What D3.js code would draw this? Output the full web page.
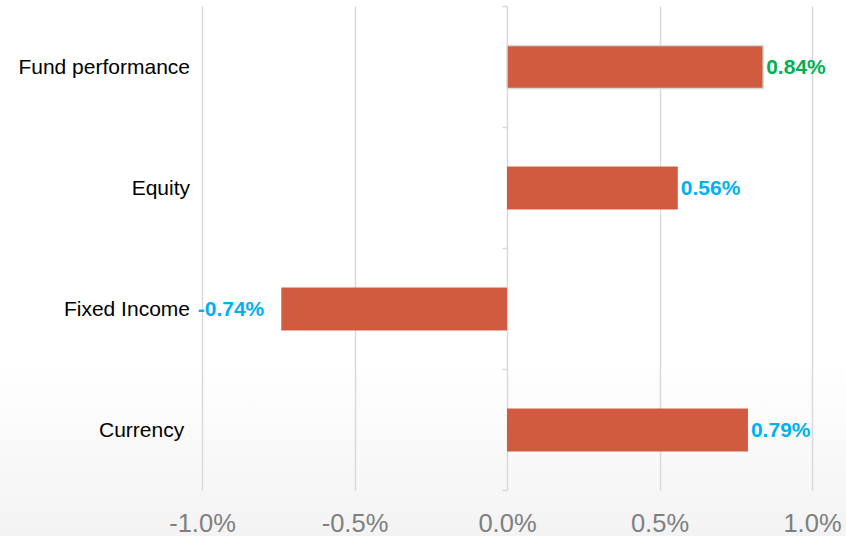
<!DOCTYPE html>
<html>
<head>
<meta charset="utf-8">
<script src="https://cdn.jsdelivr.net/npm/d3@7"></script>
<style>
  html, body { margin: 0; padding: 0; background: #fff; }
  svg { display: block; }
  text { font-family: "Liberation Sans", Arial, Helvetica, sans-serif; }
</style>
</head>
<body>
<svg id="chart" width="846" height="536"></svg>
<script>
// Return attribution by component
const categories = ["Fund performance", "Equity", "Fixed Income", "Currency "];
const values = [0.84, 0.56, -0.74, 0.79];
const labelColors = ["#00b050", "#00b0f0", "#00b0f0", "#00b0f0"];
const tickValues = [-1.0, -0.5, 0.0, 0.5, 1.0];

const W = 846, H = 536;
const svg = d3.select("#chart");

// plain hyphen for negatives
const pct = digits => d => d3.format("." + digits + "f")(d).replace("\u2212", "-") + "%";

// soft grey fade toward the bottom of the canvas
const defs = svg.append("defs");
const grad = defs.append("linearGradient")
  .attr("id", "bgFade").attr("x1", 0).attr("y1", 0).attr("x2", 0).attr("y2", 1);
grad.append("stop").attr("offset", "0.68").attr("stop-color", "#ffffff");
grad.append("stop").attr("offset", "1").attr("stop-color", "#f3f3f3");
svg.append("rect").attr("width", W).attr("height", H).attr("fill", "url(#bgFade)");

const x = d3.scaleLinear().domain([-1.0, 1.0]).range([202, 812]);
const y = d3.scaleBand().domain(categories).range([6.5, 490.5])
  .paddingInner(0.645).paddingOuter(0.3225);

// vertical gridlines
svg.append("g")
  .selectAll("line.grid")
  .data(tickValues)
  .join("line")
  .attr("class", "grid")
  .attr("x1", d => Math.round(x(d)) + 0.5)
  .attr("x2", d => Math.round(x(d)) + 0.5)
  .attr("y1", y.range()[0])
  .attr("y2", y.range()[1])
  .attr("stroke", "#d9d9d9")
  .attr("stroke-width", 1.5);

// category axis on zero, with boundary ticks between categories
const boundaries = categories.map(c => y(c) - y.step() * y.paddingInner() / 2)
  .concat([y.range()[1]]);
svg.append("g")
  .selectAll("line.cat-tick")
  .data(boundaries)
  .join("line")
  .attr("x1", Math.round(x(0)) + 0.5 - 5)
  .attr("x2", Math.round(x(0)) + 0.5)
  .attr("y1", d => d)
  .attr("y2", d => d)
  .attr("stroke", "#d9d9d9")
  .attr("stroke-width", 1.5);

// bars
svg.append("g")
  .selectAll("rect.bar")
  .data(values)
  .join("rect")
  .attr("class", "bar")
  .attr("x", d => x(Math.min(0, d)))
  .attr("width", d => Math.abs(x(d) - x(0)))
  .attr("y", (d, i) => y(categories[i]))
  .attr("height", y.bandwidth())
  .attr("fill", "#d05b3e")
  .attr("stroke", (d, i) => i === 0 ? "#d9d9d9" : "none")
  .attr("stroke-width", 1.5);

// category labels, at the low end of the plot
svg.append("g")
  .selectAll("text.cat")
  .data(categories)
  .join("text")
  .attr("x", x(-1.0) - 12)
  .attr("y", d => y(d) + y.bandwidth() / 2 + 7)
  .attr("text-anchor", "end")
  .attr("font-size", 21)
  .attr("fill", "#000")
  .style("white-space", "pre")
  .text(d => d);

// value labels at the outer end of each bar
svg.append("g")
  .selectAll("text.val")
  .data(values)
  .join("text")
  .attr("x", d => d >= 0 ? x(d) + 3 : x(d) - 17)
  .attr("y", (d, i) => y(categories[i]) + y.bandwidth() / 2 + 7)
  .attr("text-anchor", d => d >= 0 ? "start" : "end")
  .attr("font-size", 21)
  .attr("font-weight", "bold")
  .attr("fill", (d, i) => labelColors[i])
  .text(pct(2));

// value axis labels
const xAxis = d3.axisBottom(x)
  .tickValues(tickValues)
  .tickSize(0)
  .tickPadding(0)
  .tickFormat(pct(1));
const gx = svg.append("g").attr("transform", "translate(0,532)").call(xAxis);
gx.select(".domain").remove();
gx.selectAll("text")
  .attr("dy", 0)
  .attr("y", 0)
  .attr("font-size", 25.5)
  .attr("font-family", "'Liberation Sans', Arial, sans-serif")
  .attr("fill", "#7f7f7f");
</script>
</body>
</html>
